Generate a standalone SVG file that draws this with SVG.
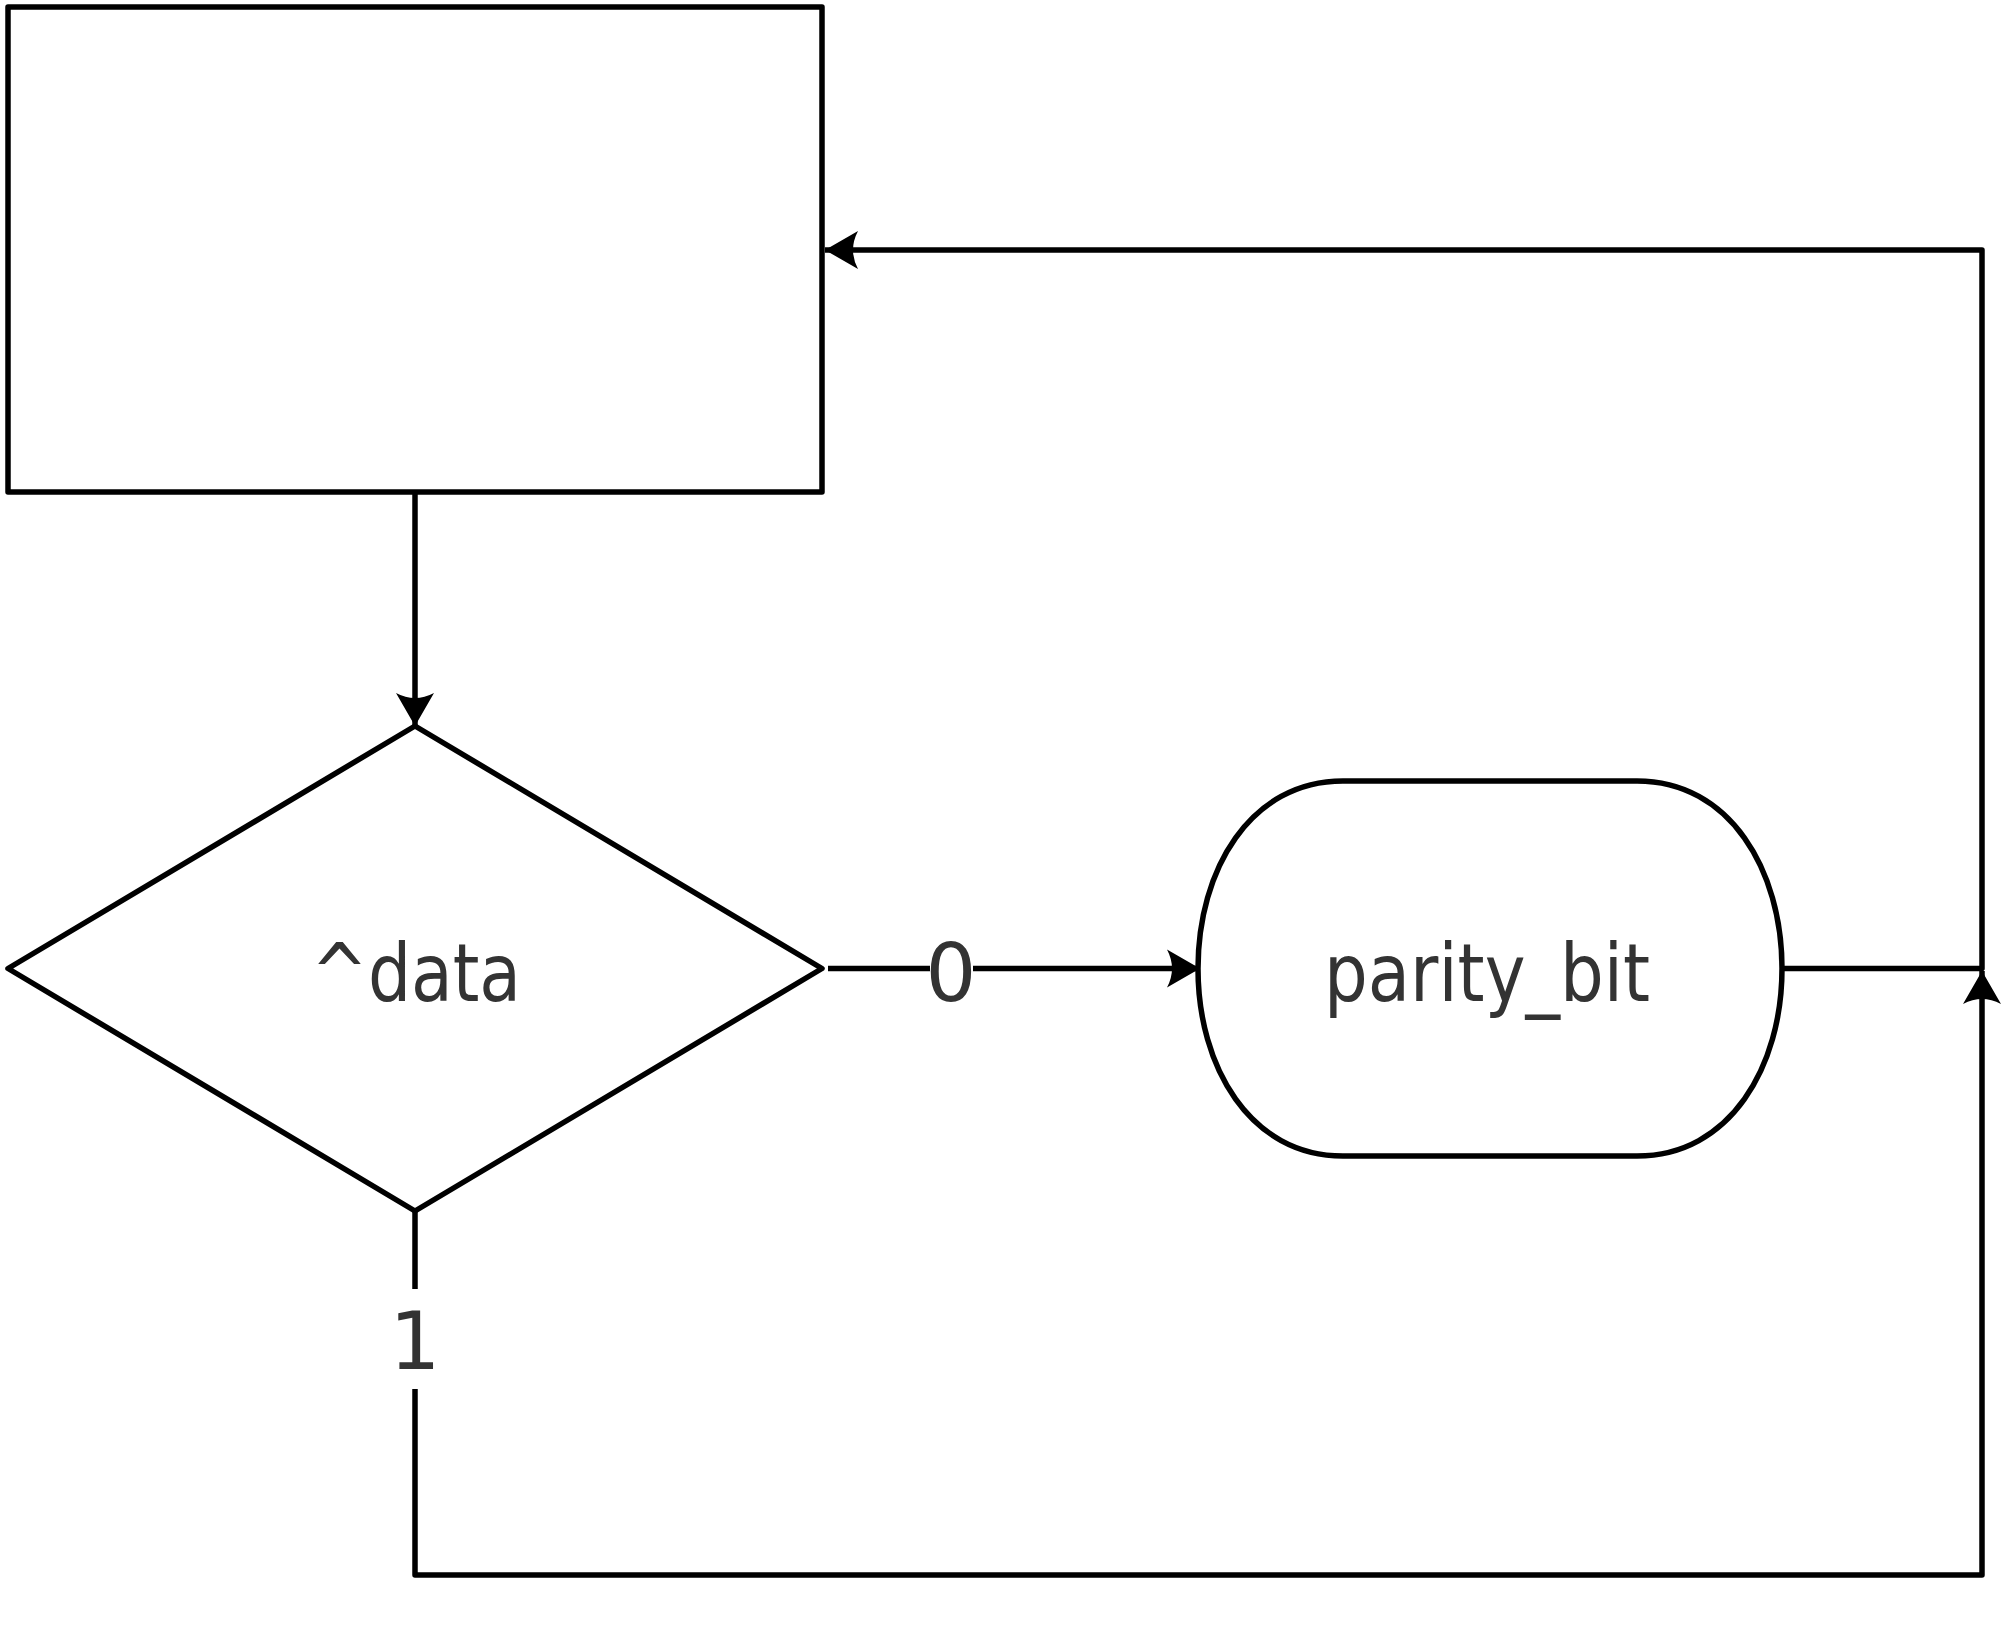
<svg xmlns="http://www.w3.org/2000/svg" width="2012" height="1644" viewBox="0 0 2012 1644">
<style>
.shape{fill:#fff;stroke:#000;stroke-width:5.5;stroke-linejoin:round}
.edge{fill:none;stroke:#000;stroke-width:5.5;stroke-linejoin:round}
.lbl{font-family:"DejaVu Sans",sans-serif;font-size:80px;fill:#333;text-anchor:middle}
</style>
<defs>
<marker id="arr" markerUnits="userSpaceOnUse" markerWidth="40" markerHeight="44" viewBox="-36 -22 40 44" refX="0" refY="0" orient="auto">
<path d="M0,0 L-33,-19 Q-23,0 -33,19 Z" fill="#000"/>
</marker>
</defs>
<rect width="2012" height="1644" fill="#fff"/>
<g id="edges">
<path class="edge" d="M415,492 V726" marker-end="url(#arr)"/>
<path class="edge" d="M1782,968.5 H1982 V250 H825" marker-end="url(#arr)"/>
<path class="edge" d="M828,968.5 H1200" marker-end="url(#arr)"/>
<path class="edge" d="M415,1211 V1575 H1982 V971" marker-end="url(#arr)"/>
<rect x="930" y="935" width="43" height="70" fill="#fff"/>
<text class="lbl" x="951" y="1001">0</text>
<rect x="395" y="1289" width="40" height="100" fill="#fff"/>
<text class="lbl" x="415" y="1369">1</text>
</g>
<g id="node-top">
<rect class="shape" x="8" y="7" width="814" height="485"/>
</g>
<g id="node-decision">
<path class="shape" d="M415,726 L822,968.5 L415,1211 L8,968.5 Z"/>
<text class="lbl" x="416" y="1001" textLength="210" lengthAdjust="spacingAndGlyphs">^data</text>
</g>
<g id="node-parity">
<path class="shape" d="M1343,781 H1637 C1730,781 1782,870 1782,968.5 C1782,1067 1730,1156 1637,1156 H1343 C1250,1156 1198,1067 1198,968.5 C1198,870 1250,781 1343,781 Z"/>
<text class="lbl" x="1487" y="1001" textLength="326" lengthAdjust="spacingAndGlyphs">parity_bit</text>
</g>
</svg>
